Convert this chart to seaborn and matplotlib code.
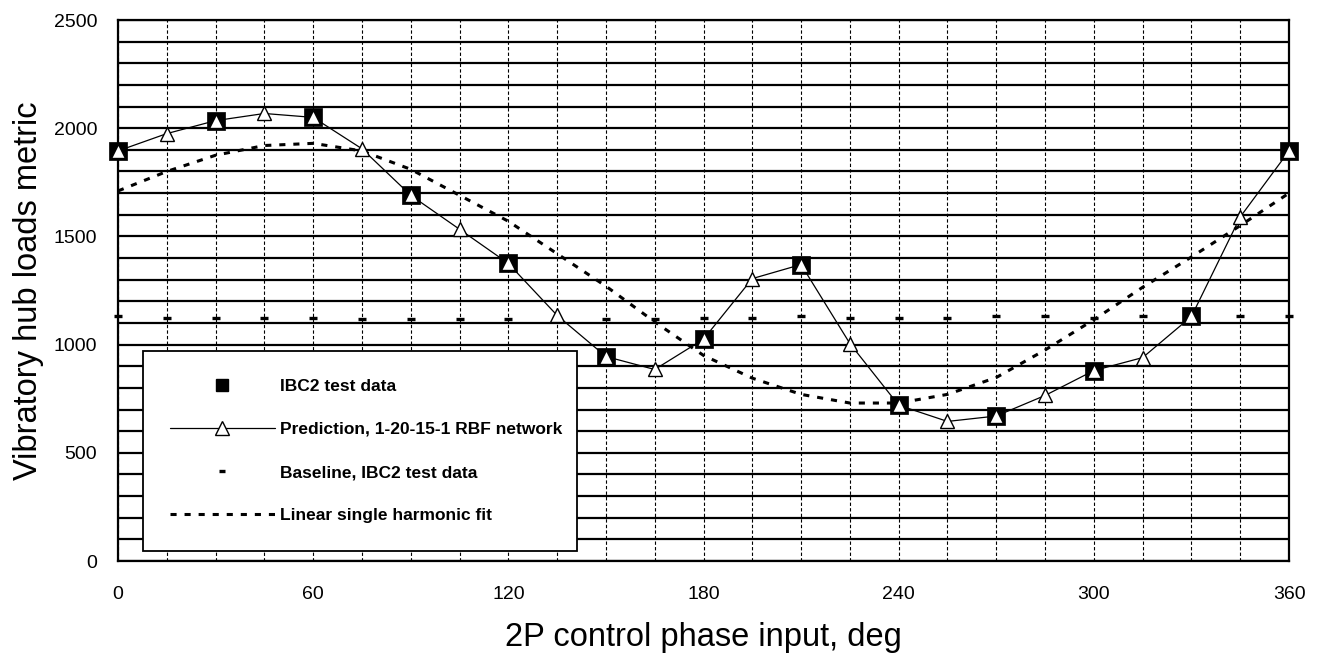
import matplotlib
matplotlib.use("Agg")
import matplotlib.pyplot as plt
import seaborn as sns
import pandas as pd
from matplotlib.lines import Line2D

# Control phase input (deg) and the series measured / predicted at each phase
phase_deg = [0, 15, 30, 45, 60, 75, 90, 105, 120, 135, 150, 165, 180,
             195, 210, 225, 240, 255, 270, 285, 300, 315, 330, 345, 360]
prediction = [1895, 1975, 2035, 2068, 2050, 1905, 1690, 1533, 1375, 1135, 945, 885, 1025,
              1305, 1370, 1005, 720, 645, 670, 765, 880, 940, 1130, 1590, 1895]
baseline = [1130, 1125, 1125, 1125, 1125, 1120, 1120, 1120, 1120, 1120, 1120, 1120, 1125,
            1125, 1130, 1125, 1125, 1125, 1130, 1130, 1125, 1130, 1130, 1130, 1130]
harmonic_fit = [1710, 1800, 1875, 1920, 1930, 1895, 1810, 1690, 1570, 1420, 1270, 1105, 950,
                845, 770, 730, 730, 770, 848, 975, 1115, 1265, 1405, 1550, 1700]

test_phase = [0, 30, 60, 90, 120, 150, 180, 210, 240, 270, 300, 330, 360]
test_data = [1895, 2035, 2050, 1690, 1375, 945, 1025, 1370, 720, 670, 880, 1130, 1895]

x_ticks = [0, 60, 120, 180, 240, 300, 360]
y_ticks = [0, 500, 1000, 1500, 2000, 2500]

labels = ["IBC2 test data",
          "Prediction, 1-20-15-1 RBF network",
          "Baseline, IBC2 test data",
          "Linear single harmonic fit"]

sns.set_style("white")
plt.rcParams["font.family"] = ["Liberation Sans", "DejaVu Sans"]
plt.rcParams.update({"text.color": "black", "axes.labelcolor": "black",
                     "xtick.color": "black", "ytick.color": "black"})

curves = pd.DataFrame({"phase": phase_deg, "prediction": prediction,
                       "baseline": baseline, "fit": harmonic_fit})
tests = pd.DataFrame({"phase": test_phase, "value": test_data})

fig = plt.figure(figsize=(13.3, 6.58), dpi=100)
ax = fig.add_axes([0.0887, 0.1474, 0.8805, 0.8222])

dot_style = (0, (2.0, 2.6))

sns.lineplot(data=curves, x="phase", y="fit", ax=ax, color="black",
             linewidth=2.2, linestyle=dot_style, zorder=3)
sns.scatterplot(data=curves, x="phase", y="baseline", ax=ax, marker="_",
                s=30, color="black", linewidth=2.4, zorder=4, clip_on=False)
sns.scatterplot(data=tests, x="phase", y="value", ax=ax, marker="s",
                s=150, color="black", edgecolor="black", linewidth=0.5,
                zorder=5, clip_on=False)
sns.lineplot(data=curves, x="phase", y="prediction", ax=ax, color="black",
             linewidth=0.9, marker="^", markersize=10, markerfacecolor="white",
             markeredgecolor="black", markeredgewidth=1.0, zorder=6,
             clip_on=False)

ax.set_xlim(0, 360)
ax.set_ylim(0, 2500)
ax.set_xticks(x_ticks)
ax.set_xticks(range(0, 361, 15), minor=True)
ax.set_yticks(y_ticks)
ax.set_yticks(range(0, 2501, 100), minor=True)
ax.set_xticklabels([str(v) for v in x_ticks])
ax.set_yticklabels([str(v) for v in y_ticks])

ax.grid(which="both", axis="y", color="black", linewidth=1.6)
ax.grid(which="both", axis="x", color="black", linewidth=0.8,
        linestyle=(0, (3, 2)))
ax.set_axisbelow(True)

ax.tick_params(axis="both", which="both", length=0, labelsize=14)
ax.tick_params(axis="x", pad=18)
ax.tick_params(axis="y", pad=15)

for side in ax.spines.values():
    side.set_visible(True)
    side.set_color("black")
    side.set_linewidth(1.6)

ax.set_xlabel("2P control phase input, deg", fontsize=23.5, labelpad=14)
ax.set_ylabel("Vibratory hub loads metric", fontsize=23.5, labelpad=7)

handles = [
    Line2D([], [], linestyle="none", marker="s", markersize=9,
           color="black"),
    Line2D([], [], color="black", linewidth=0.9, marker="^", markersize=10,
           markerfacecolor="white", markeredgecolor="black"),
    Line2D([], [], linestyle="none", marker="_", markersize=5,
           markeredgewidth=2.4, color="black"),
    Line2D([], [], color="black", linewidth=2.2, linestyle=dot_style),
]
leg = ax.legend(handles, labels, loc="lower left",
                bbox_to_anchor=(0.021, 0.018, 0.371, 0.376), mode="expand",
                frameon=True, fancybox=False, framealpha=1, edgecolor="black",
                borderpad=1.6, labelspacing=1.62, handlelength=6.0,
                handletextpad=0.3, borderaxespad=0,
                prop={"family": "Liberation Sans", "weight": "bold", "size": 12.5})
leg.get_frame().set_linewidth(1.3)
leg.set_zorder(10)

fig.savefig("out.png", dpi=100)
